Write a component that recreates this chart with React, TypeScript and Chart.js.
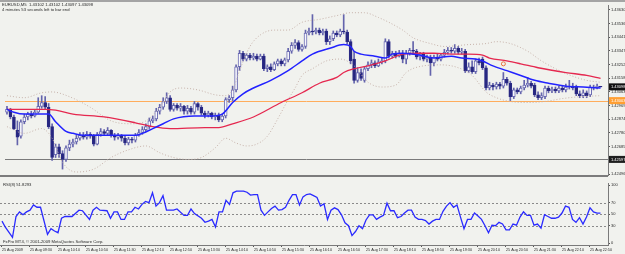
import React, { useEffect, useRef } from "react";
import { Chart, registerables } from "chart.js";
Chart.register(...registerables);

// ---------- DATA ----------
const headerLines = ["EURUSD,M5  1.43102 1.43102 1.43097 1.43098", "4 minutes 53 seconds left to bar end"];
const rsiTitle = "RSI(8) 51.8293";
const copyright = "FxPro MT4, \u00a9 2001-2009 MetaQuotes Software Corp.";

const opens = [
  1.42923,1.42943,1.42890,1.42797,1.42757,1.42857,1.42890,1.42910,1.42897,1.42923,
  1.42963,1.42990,1.42957,1.42823,1.42630,1.42683,1.42637,1.42597,1.42677,1.42703,
  1.42717,1.42743,1.42763,1.42750,1.42770,1.42757,1.42703,1.42770,1.42790,1.42777,
  1.42797,1.42763,1.42750,1.42763,1.42743,1.42710,1.42737,1.42730,1.42763,1.42783,
  1.42803,1.42823,1.42863,1.42877,1.42930,1.42957,1.42997,1.43023,1.42943,1.42970,
  1.42950,1.42963,1.42930,1.42950,1.42923,1.42983,1.42957,1.42917,1.42903,1.42917,
  1.42890,1.42903,1.42870,1.42897,1.43010,1.43023,1.43077,1.43237,1.43330,1.43290,
  1.43317,1.43297,1.43310,1.43290,1.43310,1.43223,1.43237,1.43217,1.43257,1.43277,
  1.43257,1.43284,1.43344,1.43384,1.43404,1.43357,1.43377,1.43470,1.43484,1.43477,
  1.43490,1.43470,1.43484,1.43410,1.43430,1.43470,1.43457,1.43484,1.43477,1.43410,
  1.43290,1.43143,1.43197,1.43143,1.43223,1.43250,1.43264,1.43243,1.43270,1.43277,
  1.43410,1.43310,1.43330,1.43310,1.43330,1.43290,1.43330,1.43350,1.43344,1.43304,
  1.43324,1.43290,1.43304,1.43264,1.43304,1.43290,1.43317,1.43337,1.43350,1.43344,
  1.43364,1.43337,1.43344,1.43210,1.43237,1.43203,1.43277,1.43290,1.43230,1.43090,
  1.43110,1.43097,1.43117,1.43103,1.43150,1.43123,1.43030,1.43077,1.43063,1.43090,
  1.43110,1.43123,1.43110,1.43043,1.43023,1.43030,1.43090,1.43070,1.43083,1.43070,
  1.43090,1.43077,1.43097,1.43103,1.43097,1.43050,1.43037,1.43057,1.43043,1.43097,
  1.43090,1.43102,
];
const highs = [
  1.42963,1.42950,1.42903,1.42863,1.42870,1.42910,1.42923,1.42930,1.42937,1.43023,
  1.43037,1.43030,1.42983,1.42843,1.42703,1.42703,1.42657,1.42690,1.42730,1.42737,
  1.42763,1.42783,1.42783,1.42790,1.42783,1.42770,1.42783,1.42810,1.42803,1.42817,
  1.42803,1.42777,1.42777,1.42770,1.42757,1.42750,1.42750,1.42777,1.42803,1.42823,
  1.42843,1.42883,1.42897,1.42950,1.42977,1.43023,1.43057,1.43037,1.42983,1.42983,
  1.42983,1.42970,1.42970,1.42963,1.42997,1.42990,1.42970,1.42930,1.42930,1.42923,
  1.42917,1.42917,1.42910,1.43023,1.43037,1.43103,1.43250,1.43350,1.43344,1.43330,
  1.43330,1.43330,1.43324,1.43324,1.43324,1.43250,1.43257,1.43270,1.43290,1.43290,
  1.43297,1.43364,1.43404,1.43424,1.43417,1.43390,1.43490,1.43504,1.43597,1.43504,
  1.43504,1.43497,1.43497,1.43450,1.43484,1.43484,1.43497,1.43597,1.43490,1.43424,
  1.43344,1.43230,1.43223,1.43237,1.43270,1.43284,1.43277,1.43290,1.43297,1.43430,
  1.43424,1.43344,1.43344,1.43350,1.43350,1.43350,1.43364,1.43410,1.43357,1.43337,
  1.43337,1.43317,1.43317,1.43317,1.43324,1.43330,1.43357,1.43370,1.43370,1.43390,
  1.43377,1.43364,1.43357,1.43264,1.43277,1.43290,1.43297,1.43304,1.43243,1.43130,
  1.43123,1.43130,1.43130,1.43197,1.43163,1.43137,1.43090,1.43090,1.43103,1.43143,
  1.43163,1.43137,1.43123,1.43063,1.43057,1.43103,1.43103,1.43097,1.43097,1.43103,
  1.43103,1.43117,1.43143,1.43123,1.43110,1.43070,1.43077,1.43070,1.43110,1.43110,
  1.43117,1.43102,
];
const lows = [
  1.42910,1.42877,1.42803,1.42697,1.42743,1.42843,1.42870,1.42883,1.42890,1.42917,
  1.42950,1.42943,1.42810,1.42590,1.42610,1.42610,1.42530,1.42583,1.42657,1.42683,
  1.42703,1.42730,1.42737,1.42737,1.42743,1.42690,1.42697,1.42757,1.42763,1.42763,
  1.42750,1.42730,1.42737,1.42723,1.42697,1.42697,1.42710,1.42717,1.42757,1.42770,
  1.42790,1.42810,1.42850,1.42863,1.42910,1.42943,1.42983,1.42930,1.42930,1.42937,
  1.42930,1.42910,1.42910,1.42910,1.42910,1.42937,1.42903,1.42883,1.42890,1.42877,
  1.42870,1.42857,1.42857,1.42883,1.42990,1.43003,1.43063,1.43210,1.43277,1.43277,
  1.43284,1.43284,1.43277,1.43284,1.43210,1.43203,1.43203,1.43210,1.43243,1.43243,
  1.43243,1.43270,1.43330,1.43364,1.43344,1.43344,1.43364,1.43457,1.43457,1.43464,
  1.43457,1.43457,1.43390,1.43390,1.43417,1.43444,1.43444,1.43464,1.43397,1.43257,
  1.43123,1.43130,1.43143,1.43130,1.43210,1.43230,1.43230,1.43237,1.43257,1.43264,
  1.43297,1.43297,1.43297,1.43304,1.43264,1.43257,1.43317,1.43324,1.43290,1.43284,
  1.43277,1.43270,1.43177,1.43243,1.43277,1.43277,1.43304,1.43324,1.43330,1.43330,
  1.43324,1.43324,1.43197,1.43197,1.43190,1.43190,1.43250,1.43217,1.43077,1.43077,
  1.43077,1.43083,1.43083,1.43090,1.43110,1.43003,1.43017,1.43050,1.43050,1.43077,
  1.43097,1.43090,1.43030,1.43010,1.43010,1.43017,1.43057,1.43057,1.43057,1.43057,
  1.43063,1.43063,1.43083,1.43077,1.43037,1.43023,1.43023,1.43023,1.43030,1.43077,
  1.43083,1.43097,
];
const closes = [
  1.42943,1.42890,1.42810,1.42750,1.42857,1.42890,1.42910,1.42897,1.42923,1.42963,
  1.42990,1.42957,1.42823,1.42610,1.42683,1.42637,1.42597,1.42677,1.42703,1.42717,
  1.42743,1.42763,1.42750,1.42770,1.42757,1.42703,1.42770,1.42790,1.42777,1.42797,
  1.42763,1.42750,1.42763,1.42743,1.42710,1.42737,1.42730,1.42763,1.42783,1.42803,
  1.42823,1.42863,1.42877,1.42930,1.42957,1.42997,1.43023,1.42943,1.42970,1.42950,
  1.42963,1.42930,1.42950,1.42923,1.42983,1.42957,1.42917,1.42903,1.42917,1.42890,
  1.42903,1.42870,1.42897,1.43010,1.43023,1.43077,1.43237,1.43330,1.43290,1.43317,
  1.43297,1.43310,1.43290,1.43310,1.43223,1.43237,1.43217,1.43257,1.43277,1.43257,
  1.43284,1.43344,1.43384,1.43404,1.43357,1.43377,1.43470,1.43484,1.43477,1.43490,
  1.43470,1.43484,1.43410,1.43430,1.43470,1.43457,1.43484,1.43477,1.43410,1.43277,
  1.43143,1.43197,1.43157,1.43223,1.43250,1.43264,1.43243,1.43270,1.43277,1.43410,
  1.43310,1.43330,1.43310,1.43330,1.43290,1.43330,1.43350,1.43344,1.43304,1.43324,
  1.43290,1.43304,1.43264,1.43304,1.43290,1.43317,1.43337,1.43350,1.43344,1.43364,
  1.43337,1.43344,1.43210,1.43237,1.43203,1.43277,1.43264,1.43230,1.43090,1.43110,
  1.43097,1.43117,1.43103,1.43150,1.43123,1.43030,1.43077,1.43063,1.43090,1.43110,
  1.43123,1.43103,1.43043,1.43023,1.43037,1.43090,1.43070,1.43083,1.43070,1.43090,
  1.43077,1.43097,1.43103,1.43090,1.43050,1.43037,1.43057,1.43037,1.43097,1.43090,
  1.43103,1.43098,
];

const fastMaBars = [0,2,5,12,14,17,19,22,37,39,42,45,48,54,59,62,65,68,71,76,81,85,88,93,97,99,100,102,106,109,111,114,119,123,128,131,135,137,140,144,148,152,156,161,166,171];
const fastMaValues = [1.42943,1.42923,1.42910,1.42910,1.42857,1.42790,1.42777,1.42763,1.42763,1.42777,1.42810,1.42843,1.42877,1.42897,1.42897,1.42910,1.42990,1.43050,1.43090,1.43143,1.43210,1.43277,1.43324,1.43364,1.43390,1.43377,1.43344,1.43324,1.43310,1.43297,1.43324,1.43330,1.43317,1.43297,1.43310,1.43297,1.43290,1.43277,1.43243,1.43210,1.43177,1.43143,1.43123,1.43103,1.43097,1.43090];

const slowMaBars = [0,11,14,19,28,37,42,47,57,61,65,71,79,85,90,95,97,100,104,109,114,119,123,128,133,137,139,144,148,153,161,167,171];
const slowMaValues = [1.42943,1.42943,1.42937,1.42910,1.42890,1.42850,1.42823,1.42810,1.42817,1.42817,1.42843,1.42890,1.42990,1.43057,1.43123,1.43163,1.43197,1.43223,1.43243,1.43277,1.43324,1.43330,1.43330,1.43324,1.43324,1.43317,1.43297,1.43277,1.43257,1.43230,1.43197,1.43177,1.43157];

const bbUpperBars = [0,5,10,13,18,24,30,36,40,44,47,50,55,60,63,65,67,70,73,77,81,85,90,95,99,103,107,110,114,117,122,126,133,138,141,145,150,154,161,167,171];
const bbUpperValues = [1.43037,1.43023,1.43057,1.43063,1.43030,1.42957,1.42863,1.42843,1.42863,1.42957,1.43063,1.43090,1.43077,1.43043,1.43037,1.43077,1.43210,1.43377,1.43457,1.43490,1.43490,1.43544,1.43564,1.43590,1.43610,1.43610,1.43577,1.43544,1.43490,1.43437,1.43397,1.43377,1.43390,1.43397,1.43410,1.43397,1.43344,1.43277,1.43190,1.43143,1.43130];

const bbLowerBars = [0,5,10,13,16,20,25,30,35,40,44,48,52,56,60,63,66,69,72,75,78,81,83,85,88,92,96,100,104,108,112,115,120,125,130,134,138,141,145,150,155,160,165,171];
const bbLowerValues = [1.42823,1.42777,1.42810,1.42743,1.42577,1.42510,1.42530,1.42610,1.42663,1.42690,1.42643,1.42610,1.42597,1.42610,1.42677,1.42743,1.42710,1.42690,1.42703,1.42757,1.42877,1.43010,1.43090,1.43177,1.43223,1.43277,1.43290,1.43243,1.43130,1.43097,1.43110,1.43197,1.43243,1.43250,1.43230,1.43177,1.43063,1.43023,1.42997,1.42990,1.42997,1.43017,1.43030,1.43037];

const markerBars = [143];
const markerPrices = [1.43257];

const hLinePrices = [1.43003, 1.42597];
const hLineColors = ["#ffad5c", "#7a7a7a"];
const boxPrices = [1.43098, 1.43003, 1.42597];
const boxColors = ["#111111", "#ff9f33", "#1e1e1e"];

const priceTicks = [1.43630,1.43536,1.43441,1.43347,1.43252,1.43158,1.43063,1.42969,1.42874,1.42780,1.42685,1.42591,1.42496];

const rsiBars = [0,1,3,4,5,6,7,8,9,10,11,13,14,15,16,17,18,20,22,23,25,26,27,28,30,31,32,33,34,35,36,37,38,39,40,41,42,43,44,45,46,47,49,50,52,53,54,55,57,58,59,60,
  61,62,63,64,65,66,67,68,69,70,71,72,73,74,75,76,77,78,79,80,81,82,83,84,85,86,87,88,89,90,
  91,92,93,94,95,96,97,98,99,100,101,102,103,104,105,106,107,108,109,110,111,112,113,114,115,116,117,118,119,120,
  121,122,123,124,125,126,127,128,129,130,131,132,133,134,135,136,137,138,139,140,141,142,143,144,145,146,147,148,149,150,
  151,152,153,154,155,156,157,158,159,160,161,162,163,164,165,166,167,168,169,170,171];
const rsiValues = [38,27,10,46,54,49,54,57,66,62,62,15,25,21,18,43,46,46,57,56,41,57,62,57,56,43,54,54,41,41,54,54,62,59,67,72,70,87,64,70,82,57,57,59,48,48,59,51,43,36,38,41,
  28,54,54,74,67,87,90,90,90,88,83,84,84,57,48,54,60,64,57,58,62,74,84,84,66,80,84,85,82,79,
  64,68,41,57,61,58,49,35,30,13,20,30,25,40,49,49,41,45,48,69,56,56,44,46,52,57,57,45,41,41,
  39,33,38,41,41,55,64,70,62,66,45,25,41,41,52,47,41,30,18,31,30,36,33,23,23,33,31,45,54,48,
  48,31,33,26,49,46,43,43,45,52,64,62,41,36,44,33,45,61,54,52,51.83];
const rsiTicks = [0, 30, 50, 70, 100];
const rsiLevels = [30, 50, 70];

const timeTickBars = [0,8,16,24,32,40,48,56,64,72,80,88,96,104,112,120,128,136,144,152,160,168];
const timeLabels = ["25 Aug 2009","25 Aug 09:30","25 Aug 10:10","25 Aug 10:50","25 Aug 11:30","25 Aug 12:10","25 Aug 12:50","25 Aug 13:30","25 Aug 14:10","25 Aug 14:50","25 Aug 15:30","25 Aug 16:10","25 Aug 16:50","25 Aug 17:30","25 Aug 18:10","25 Aug 18:50","25 Aug 19:30","25 Aug 20:10","25 Aug 20:50","25 Aug 21:30","25 Aug 22:10","25 Aug 22:50"];

// ---------- STYLE ----------
const FONT = '"Liberation Sans", Arial, sans-serif';
const BG = "#f1f2ee";
const TXT = "#2a2a2a";

export default function App() {
  const mainRef = useRef<HTMLCanvasElement>(null);
  const rsiRef = useRef<HTMLCanvasElement>(null);

  useEffect(() => {
    const xMin = -0.571;
    const xMax = 173.143;
    const pts = (b: number[], v: number[]) => b.map((x, k) => ({ x, y: v[k] }));

    const wicks = highs.map((h, i) => ({ x: i, y: [lows[i], h] }));
    const bodies = opens.map((o, i) => ({ x: i, y: [o, closes[i]] }));
    const isUp = opens.map((o, i) => closes[i] >= o);
    const bodyFill = isUp.map((u) => (u ? "#f7f7fb" : "#262680"));
    const bodyBorder = isUp.map((u) => (u ? "#6a6ab2" : "#2a2a84"));

    const mainPlugin = {
      id: "mainDecor",
      beforeDatasetsDraw(chart: any) {
        const { ctx, chartArea: a, scales } = chart;
        ctx.save();
        hLinePrices.forEach((p, k) => {
          const y = Math.round(scales.y.getPixelForValue(p)) + 0.5;
          ctx.strokeStyle = hLineColors[k];
          ctx.lineWidth = 1;
          ctx.beginPath();
          ctx.moveTo(a.left, y);
          ctx.lineTo(a.right, y);
          ctx.stroke();
        });
        ctx.restore();
      },
      afterDraw(chart: any) {
        const { ctx, chartArea: a, scales } = chart;
        ctx.save();
        ctx.fillStyle = "#a4a4a4";
        ctx.fillRect(0, 0, 625, 2);
        ctx.fillStyle = "#7c7c7c";
        ctx.fillRect(0, a.bottom, a.right, 2);
        ctx.fillStyle = TXT;
        ctx.font = `4.2px ${FONT}`;
        ctx.textBaseline = "middle";
        ctx.textAlign = "left";
        headerLines.forEach((t, k) => ctx.fillText(t, 2, 4.5 + k * 5));
        boxPrices.forEach((p, k) => {
          const y = scales.y.getPixelForValue(p);
          ctx.fillStyle = boxColors[k];
          ctx.fillRect(a.right + 1, y - 3.5, 625 - a.right - 1, 7);
          ctx.fillStyle = "#ffffff";
          ctx.font = `4px ${FONT}`;
          ctx.fillText(p.toFixed(5), a.right + 3, y + 0.3);
        });
        ctx.restore();
      },
    };

    const main = new Chart(mainRef.current as HTMLCanvasElement, {
      type: "bar",
      data: {
        datasets: [
          { type: "line", data: pts(fastMaBars, fastMaValues), borderColor: "#2222ff", borderWidth: 1.5, pointRadius: 0, cubicInterpolationMode: "monotone", order: 1 } as any,
          { type: "line", data: pts(slowMaBars, slowMaValues), borderColor: "#e5284f", borderWidth: 1.3, pointRadius: 0, cubicInterpolationMode: "monotone", order: 1 } as any,
          { type: "line", data: pts(bbUpperBars, bbUpperValues), borderColor: "#c6b2aa", borderWidth: 1, borderDash: [1, 2], pointRadius: 0, cubicInterpolationMode: "monotone", order: 2 } as any,
          { type: "line", data: pts(bbLowerBars, bbLowerValues), borderColor: "#c6b2aa", borderWidth: 1, borderDash: [1, 2], pointRadius: 0, cubicInterpolationMode: "monotone", order: 2 } as any,
          { type: "line", data: pts(markerBars, markerPrices), showLine: false, pointRadius: 2, pointBorderColor: "#e8743c", pointBackgroundColor: "rgba(0,0,0,0)", pointBorderWidth: 1, order: 0 } as any,
          { type: "bar", data: wicks, backgroundColor: "#6464ac", barThickness: 1, grouped: false, order: 4 } as any,
          { type: "bar", data: bodies, backgroundColor: bodyFill, borderColor: bodyBorder, borderWidth: 1, borderSkipped: false, barThickness: 3, grouped: false, order: 3 } as any,
        ],
      },
      options: {
        responsive: false,
        animation: false,
        devicePixelRatio: 1,
        events: [],
        layout: { padding: { top: 2, bottom: 2, left: 0, right: 0 } },
        plugins: { legend: { display: false }, tooltip: { enabled: false } },
        scales: {
          x: { type: "linear", min: xMin, max: xMax, bounds: "data", offset: false, display: false },
          y: {
            type: "linear",
            position: "right",
            min: 1.424893,
            max: 1.436633,
            bounds: "data",
            afterFit: (s: any) => { s.width = 17; },
            afterBuildTicks: (s: any) => { s.ticks = priceTicks.map((v) => ({ value: v })); },
            grid: { drawOnChartArea: false, drawTicks: true, tickLength: 2, color: "#555" },
            border: { display: true, color: "#7a7a7a", width: 1 },
            ticks: { font: { family: FONT, size: 4 }, color: TXT, padding: 1, callback: (v: any) => Number(v).toFixed(5) },
          } as any,
        },
      } as any,
      plugins: [mainPlugin],
    });

    const rsiPlugin = {
      id: "rsiDecor",
      beforeDatasetsDraw(chart: any) {
        const { ctx, chartArea: a, scales } = chart;
        ctx.save();
        ctx.strokeStyle = "#8a8a8a";
        ctx.lineWidth = 1;
        ctx.setLineDash([2, 2]);
        rsiLevels.forEach((lv) => {
          const y = Math.round(scales.y.getPixelForValue(lv)) + 0.5;
          ctx.beginPath();
          ctx.moveTo(a.left, y);
          ctx.lineTo(a.right, y);
          ctx.stroke();
        });
        ctx.restore();
      },
      afterDraw(chart: any) {
        const { ctx } = chart;
        ctx.save();
        ctx.fillStyle = TXT;
        ctx.font = `4.2px ${FONT}`;
        ctx.textBaseline = "middle";
        ctx.textAlign = "left";
        ctx.fillText(rsiTitle, 3, 4.5);
        ctx.fillText(copyright, 3, 61.5);
        ctx.restore();
      },
    };

    const rsi = new Chart(rsiRef.current as HTMLCanvasElement, {
      type: "line",
      data: {
        datasets: [
          { data: pts(rsiBars, rsiValues), borderColor: "#2a2aff", borderWidth: 1.3, pointRadius: 0, tension: 0 },
        ],
      },
      options: {
        responsive: false,
        animation: false,
        devicePixelRatio: 1,
        events: [],
        layout: { padding: 0 },
        plugins: { legend: { display: false }, tooltip: { enabled: false } },
        scales: {
          x: {
            type: "linear",
            min: xMin,
            max: xMax,
            bounds: "data",
            afterFit: (s: any) => { s.height = 9; },
            afterBuildTicks: (s: any) => { s.ticks = timeTickBars.map((v) => ({ value: v })); },
            grid: { drawOnChartArea: false, drawTicks: true, tickLength: 2, color: "#555" },
            border: { display: true, color: "#7a7a7a", width: 1 },
            ticks: { autoSkip: false, maxRotation: 0, minRotation: 0, align: "start", padding: 1, font: { family: FONT, size: 3.7 }, color: TXT, callback: (_v: any, idx: number) => timeLabels[idx] },
          } as any,
          y: {
            type: "linear",
            position: "right",
            min: -3.28,
            max: 103.28,
            bounds: "data",
            afterFit: (s: any) => { s.width = 17; },
            afterBuildTicks: (s: any) => { s.ticks = rsiTicks.map((v) => ({ value: v })); },
            grid: { drawOnChartArea: false, drawTicks: true, tickLength: 2, color: "#555" },
            border: { display: true, color: "#7a7a7a", width: 1 },
            ticks: { font: { family: FONT, size: 4 }, color: TXT, padding: 1, callback: (v: any) => String(v) },
          } as any,
        },
      } as any,
      plugins: [rsiPlugin],
    });

    return () => {
      main.destroy();
      rsi.destroy();
    };
  }, []);

  return (
    <div style={{ position: "absolute", left: 0, top: 0, width: 625, height: 254, background: BG, overflow: "hidden" }}>
      <canvas ref={mainRef} width={625} height={180} style={{ position: "absolute", left: 0, top: 0, width: 625, height: 180 }} />
      <canvas ref={rsiRef} width={625} height={74} style={{ position: "absolute", left: 0, top: 180, width: 625, height: 74 }} />
    </div>
  );
}
